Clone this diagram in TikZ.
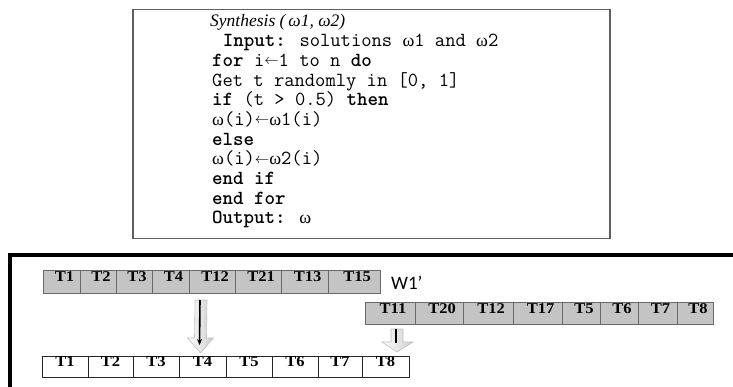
\documentclass[tikz,border=0pt]{standalone}
\usepackage{fontspec}
\setmainfont{Liberation Serif}
\newfontfamily\symfont{Liberation Serif}
\newfontfamily\cellfont[FakeStretch=1.1]{Liberation Serif}
\newfontfamily\labelfont{Carlito}
\usetikzlibrary{arrows.meta,calc}

% omega and left arrow inside the monospaced listing
\newcommand\om{{\symfont\fontsize{18}{20}\selectfont ω}}
\newcommand\larr{{\fontsize{15}{17}\selectfont\raisebox{1.5pt}{$\leftarrow$}}}

\definecolor{cellgray}{RGB}{196,196,196}
\definecolor{celledge}{RGB}{105,105,105}
\definecolor{boxedge}{RGB}{95,95,95}

\tikzset{
  codeline/.style={anchor=base west, inner sep=0pt,
    font=\ttfamily\fontsize{20}{22}\selectfont},
  titleline/.style={anchor=base west, inner sep=0pt,
    font=\itshape\fontsize{17.5}{19}\selectfont},
  cellbase/.style={inner sep=0pt, outer sep=0pt, line width=1pt,
    text height=9pt, text depth=9pt,
    font=\cellfont\bfseries\fontsize{15}{17}\selectfont},
  graycell/.style={cellbase, draw=celledge, fill=cellgray, minimum height=#1},
  whitecell/.style={cellbase, draw=black!85, fill=white, minimum height=#1},
  hollowarrow/.style={draw=gray!50, line width=0.6pt,
    left color=white, right color=gray!40},
}

\begin{document}
\begin{tikzpicture}[x=1pt,y=-1pt]
  \path[use as bounding box] (0,0) rectangle (733,387);
  \clip (0,0) rectangle (733,387);

  % algorithm box
  \draw[boxedge, line width=1.3pt] (133,9.5) rectangle (610,238.5);
  \node[titleline] (title) at (210,27) {Synthesis (\,ω1, ω2)};
  \node[codeline] (l0) at (222.6,46.7) {\textbf{Input:} solutions \om1 and \om2};
  \node[codeline] (l1) at (212,66.4)  {\textbf{for} i\larr1 to n \textbf{do}};
  \node[codeline] (l2) at (212,86.1)  {Get t randomly in [0, 1]};
  \node[codeline] (l3) at (212,105.8) {\textbf{if} (t > 0.5) \textbf{then}};
  \node[codeline] (l4) at (212,125.5) {\om(i)\larr\om1(i)};
  \node[codeline] (l5) at (212,145.2) {\textbf{else}};
  \node[codeline] (l6) at (212,164.9) {\om(i)\larr\om2(i)};
  \node[codeline] (l7) at (212,184.6) {\textbf{end if}};
  \node[codeline] (l8) at (212,204.3) {\textbf{end for}};
  \node[codeline] (l9) at (212,224)   {\textbf{Output:} \om};

  % heavy frame of the lower panel
  \draw[line width=4pt] (10,400) -- (10,255) -- (745,255);

  % parent W1
  \foreach \l/\r/\t [count=\i] in {43/80/T1,80/116/T2,116/152/T3,152/189/T4,
      189/235/T12,235/281/T21,281/328/T13,328/380/T15}
    \node[graycell=23pt, minimum width=\r-\l] (a\i) at ({(\l+\r)/2},281.5)
      {\hspace*{6pt}\t};

  % parent W1'
  \node[anchor=base west, inner sep=0pt,
    font=\labelfont\fontsize{19}{21}\selectfont] (w1) at (391,289) {W1’};
  \foreach \l/\r/\t [count=\i] in {365/415/T11,415/463/T20,463/513/T12,
      513/562/T17,562/600/T5,600/638/T6,638/677/T7,677/713/T8}
    \node[graycell=22pt, minimum width=\r-\l] (b\i) at ({(\l+\r)/2},313)
      {\hspace*{6pt}\t};

  % offspring
  \foreach \l/\r/\t [count=\i] in {42/88/T1,88/133/T2,133/179/T3,179/226/T4,
      226/272/T5,272/318/T6,318/362/T7,362/409/T8}
    \node[whitecell=21pt, minimum width=\r-\l] (c\i) at ({(\l+\r)/2},366.5) {\t};

  % inheritance arrow from W1
  \coordinate (s1) at ($(a5.south)+(-11,7)$);
  \coordinate (e1) at ($(c4.north)+(-2,-3)$);
  \path[hollowarrow] ($(s1)+(-6,0)$) -- ($(s1)+(6,0)$) -- ($(e1)+(6,-15)$)
    -- ($(e1)+(13,-15)$) -- (e1) -- ($(e1)+(-13,-15)$) -- ($(e1)+(-6,-15)$) -- cycle;
  \draw[line width=1.6pt, -{Stealth[length=6pt,width=5pt]}]
    ($(s1)+(-1,0)$) -- ($(e1)+(-1,-8)$);

  % inheritance arrow from W1'
  \coordinate (s2) at ($(b1.south)+(7,5)$);
  \coordinate (e2) at ($(c8.north)+(11.5,-4)$);
  \path[hollowarrow] ($(s2)+(-6,0)$) -- ($(s2)+(6,0)$) -- ($(e2)+(6,-10)$)
    -- ($(e2)+(16,-10)$) -- (e2) -- ($(e2)+(-15,-10)$) -- ($(e2)+(-6,-10)$) -- cycle;
  \draw[line width=2.6pt] ($(s2)+(-1,0)$) -- ($(e2)+(-1,-9)$);
\end{tikzpicture}
\end{document}
